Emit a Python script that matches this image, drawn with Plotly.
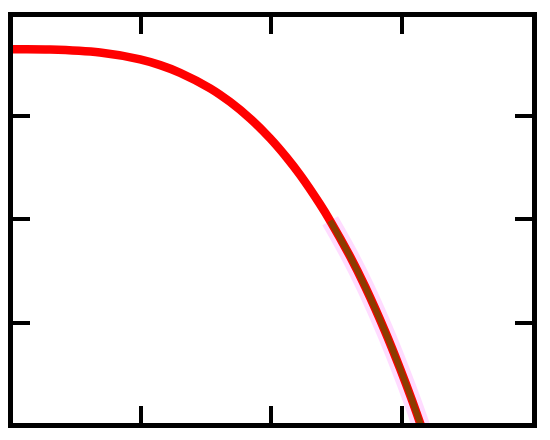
import plotly.graph_objects as go

# Main curve (red) in axis units (ticks at 1, 2, 3)
curve_x = [0.0, 0.306, 0.689, 0.996, 1.150, 1.303, 1.533, 1.686, 1.840, 1.993,
           2.121, 2.223, 2.376, 2.453, 2.607, 2.722, 2.875, 2.990, 3.080, 3.151]
curve_y = [3.643, 3.641, 3.612, 3.546, 3.490, 3.416, 3.266, 3.134, 2.973, 2.782,
           2.595, 2.428, 2.144, 1.986, 1.638, 1.347, 0.914, 0.554, 0.253, 0.0]

# Overlaid lower segment (dark brown)
seg_x = [2.453, 2.607, 2.722, 2.875, 2.990, 3.080, 3.151]
seg_y = [1.986, 1.638, 1.347, 0.914, 0.554, 0.253, 0.0]

tick_vals = [1, 2, 3]

fig = go.Figure()
fig.add_trace(go.Scatter(x=seg_x, y=seg_y, mode="lines",
                         line=dict(color="#ffdcff", width=18, shape="spline", simplify=False),
                         hoverinfo="skip", showlegend=False))
fig.add_trace(go.Scatter(x=curve_x, y=curve_y, mode="lines",
                         line=dict(color="#ff0000", width=8.5, shape="spline", simplify=False),
                         showlegend=False))
fig.add_trace(go.Scatter(x=seg_x, y=seg_y, mode="lines",
                         line=dict(color="rgb(140,60,0)", width=6, shape="spline", simplify=False),
                         showlegend=False))

axis_common = dict(showline=True, linecolor="black", linewidth=5, mirror="ticks",
                   ticks="inside", ticklen=17, tickwidth=4, tickcolor="black",
                   showticklabels=False, showgrid=False, zeroline=False,
                   tickvals=tick_vals)

# The page body has a default 8px margin, so the figure is sized and
# offset to land the frame where the reference has it.
fig.update_layout(
    width=534, height=424,
    margin=dict(l=5, r=10, t=9, b=9),
    paper_bgcolor="white", plot_bgcolor="white",
    xaxis=dict(range=[0.022, 4.0], **axis_common),
    yaxis=dict(range=[0.032, 3.955], **axis_common),
    showlegend=False,
)

fig.write_html("out.html")
